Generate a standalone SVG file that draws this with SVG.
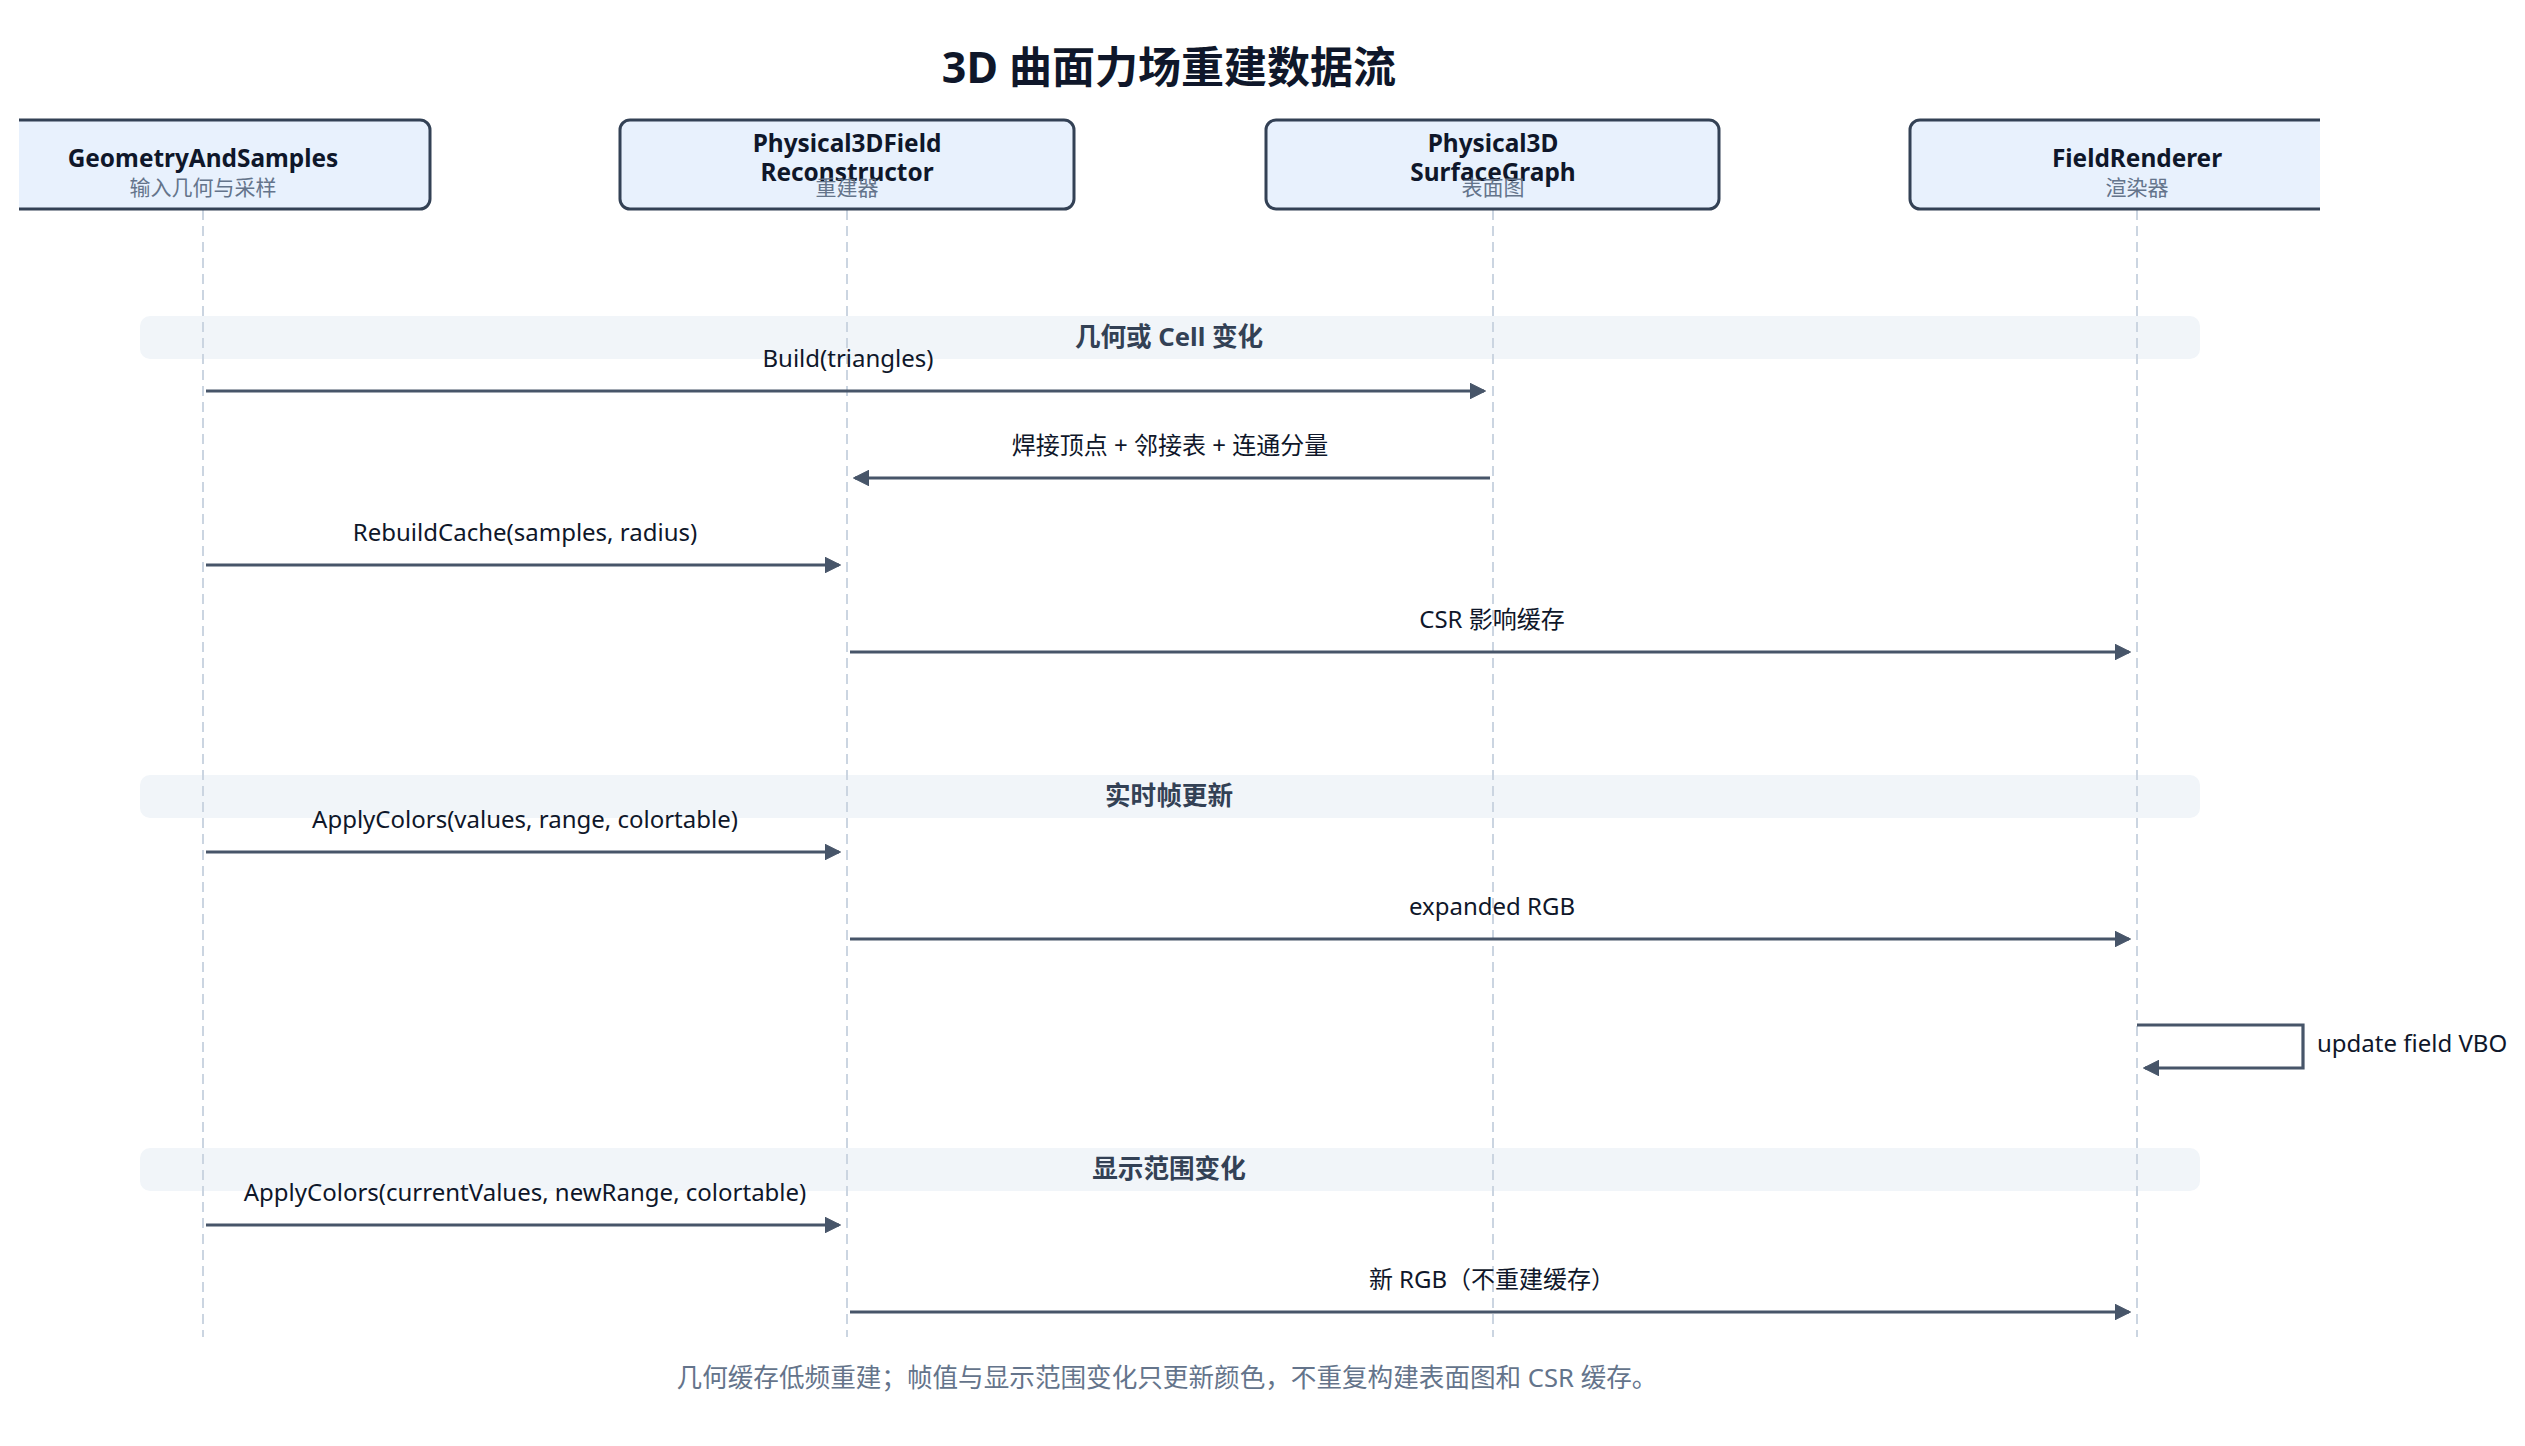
<svg xmlns="http://www.w3.org/2000/svg" width="2525" height="1446" viewBox="0 0 2525 1446">
<style>
text{font-family:"Noto Sans","Noto Sans CJK SC",sans-serif}
.title{font-size:43px;font-weight:700;fill:#0f172a;text-anchor:middle}
.box{fill:#e8f1fd;stroke:#334155;stroke-width:3}
.name{font-size:24.4px;font-weight:700;fill:#0f172a;text-anchor:middle}
.sub{font-size:21px;fill:#64748b;text-anchor:middle}
.life{stroke:#cbd5e1;stroke-width:2;stroke-dasharray:10 6;fill:none}
.sec{fill:#f1f5f9}
.seclbl{font-size:25.6px;font-weight:700;fill:#334155;text-anchor:middle}
.msg{stroke:#475569;stroke-width:3.2;fill:none;marker-end:url(#arr)}
.lbl{font-size:24px;fill:#0f172a;text-anchor:middle}
.foot{font-size:25.6px;fill:#64748b;text-anchor:middle}
</style>
<defs>
<marker id="arr" viewBox="0 0 10 10" refX="9" refY="5" markerWidth="5" markerHeight="5" orient="auto" markerUnits="strokeWidth">
<path d="M0,0 L10,5 L0,10 z" fill="#475569" stroke="#475569" stroke-width="0.6" stroke-linejoin="round"/>
</marker>
<clipPath id="clip"><rect x="19" y="0" width="2301" height="1446"/></clipPath>
</defs>
<rect width="2525" height="1446" fill="#ffffff"/>
<text class="title" x="1169" y="83">3D 曲面力场重建数据流</text>

<g id="sections">
<rect class="sec" x="140" y="316" width="2060" height="43" rx="10"/>
<text class="seclbl" x="1169" y="346">几何或 Cell 变化</text>
<rect class="sec" x="140" y="775" width="2060" height="43" rx="10"/>
<text class="seclbl" x="1169" y="805">实时帧更新</text>
<rect class="sec" x="140" y="1148" width="2060" height="43" rx="10"/>
<text class="seclbl" x="1169" y="1178">显示范围变化</text>
</g>

<g id="lifelines">
<line class="life" x1="203" y1="210" x2="203" y2="1337"/>
<line class="life" x1="847" y1="210" x2="847" y2="1337"/>
<line class="life" x1="1493" y1="210" x2="1493" y2="1337"/>
<line class="life" x1="2137" y1="210" x2="2137" y2="1337"/>
</g>

<g clip-path="url(#clip)">
<g id="GeometryAndSamples">
<rect class="box" x="-24" y="120" width="454" height="89" rx="10"/>
<text class="name" x="203" y="167">GeometryAndSamples</text>
<text class="sub" x="203" y="195">输入几何与采样</text>
</g>
<g id="Physical3DFieldReconstructor">
<rect class="box" x="620" y="120" width="454" height="89" rx="10"/>
<text class="name" x="847" y="152">Physical3DField</text>
<text class="name" x="847" y="181">Reconstructor</text>
<text class="sub" x="847" y="195">重建器</text>
</g>
<g id="Physical3DSurfaceGraph">
<rect class="box" x="1266" y="120" width="453" height="89" rx="10"/>
<text class="name" x="1493" y="152">Physical3D</text>
<text class="name" x="1493" y="181">SurfaceGraph</text>
<text class="sub" x="1493" y="195">表面图</text>
</g>
<g id="FieldRenderer">
<rect class="box" x="1910" y="120" width="454" height="89" rx="10"/>
<text class="name" x="2137" y="167">FieldRenderer</text>
<text class="sub" x="2137" y="195">渲染器</text>
</g>
</g>

<g id="connectors">
<line class="msg" x1="206" y1="391" x2="1484" y2="391"/>
<text class="lbl" x="848" y="367">Build(triangles)</text>
<line class="msg" x1="1490" y1="478" x2="855" y2="478"/>
<text class="lbl" x="1170" y="454">焊接顶点 + 邻接表 + 连通分量</text>
<line class="msg" x1="206" y1="565" x2="839" y2="565"/>
<text class="lbl" x="525" y="541">RebuildCache(samples, radius)</text>
<line class="msg" x1="850" y1="652" x2="2129" y2="652"/>
<text class="lbl" x="1492" y="628">CSR 影响缓存</text>
<line class="msg" x1="206" y1="852" x2="839" y2="852"/>
<text class="lbl" x="525" y="828">ApplyColors(values, range, colortable)</text>
<line class="msg" x1="850" y1="939" x2="2129" y2="939"/>
<text class="lbl" x="1492" y="915">expanded RGB</text>
<polyline class="msg" points="2137,1025 2303,1025 2303,1068 2145,1068"/>
<text class="lbl" x="2317" y="1052" style="text-anchor:start">update field VBO</text>
<line class="msg" x1="206" y1="1225" x2="839" y2="1225"/>
<text class="lbl" x="525" y="1201">ApplyColors(currentValues, newRange, colortable)</text>
<line class="msg" x1="850" y1="1312" x2="2129" y2="1312"/>
<text class="lbl" x="1492" y="1288">新 RGB（不重建缓存）</text>
</g>

<text class="foot" x="1167" y="1387">几何缓存低频重建；帧值与显示范围变化只更新颜色，不重复构建表面图和 CSR 缓存。</text>
</svg>
